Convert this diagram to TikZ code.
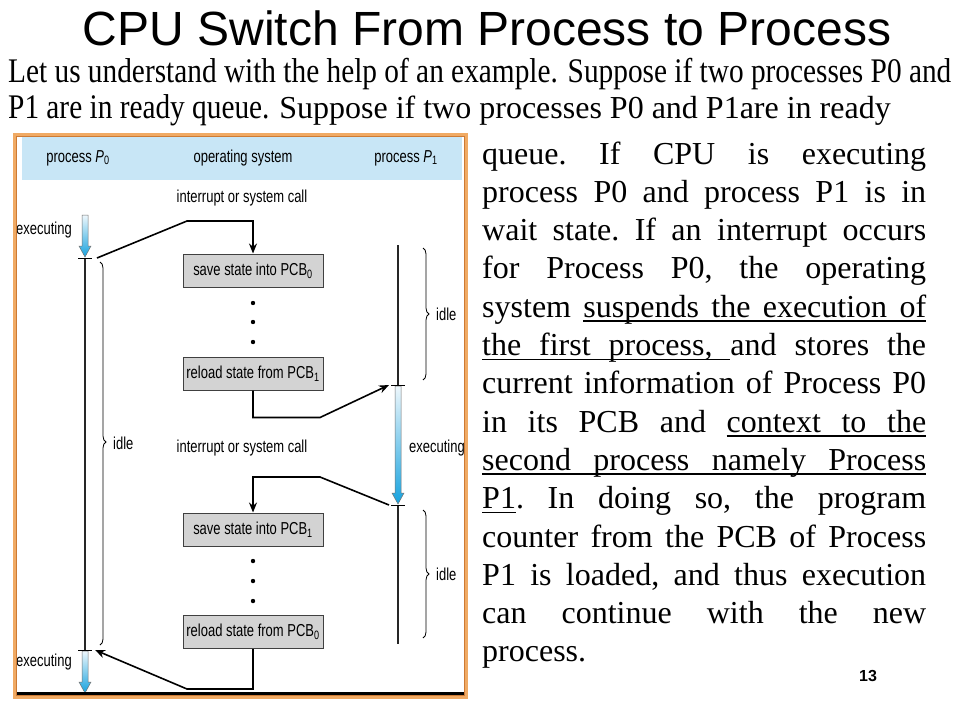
\documentclass[tikz,border=0pt]{standalone}
\usepackage{fontspec}
\setmainfont{Liberation Serif}
\newfontfamily\arialfont{Liberation Sans}
\newfontfamily\figfont[FakeStretch=0.75]{Liberation Sans}
\newfontfamily\introfont[FakeStretch=0.85]{Liberation Serif}
\usetikzlibrary{arrows.meta,decorations.pathreplacing}

\definecolor{hdrblue}{RGB}{200,230,246}
\definecolor{boxgray}{RGB}{211,211,211}
\definecolor{frameorange}{RGB}{240,170,100}
\definecolor{framedark}{RGB}{205,122,52}
\definecolor{arrowtop}{RGB}{238,247,252}
\definecolor{arrowbot}{RGB}{22,162,222}

\newcommand\fsz[2]{\fontsize{#1}{#2}\selectfont}
% one justified line of the explanatory paragraph
\newcommand\jline[1]{\makebox[444pt][s]{\frenchspacing#1}}
% underlined word, and an underlined space that stretches like a normal one
\newcommand\ulw[1]{\setbox0\hbox{#1}\rlap{\vrule width\wd0 height -3pt depth 4.5pt}\box0}
\newcommand\ulsp{\leaders\hrule height -3pt depth 4.5pt\hskip\fontdimen2\font plus\fontdimen3\font minus\fontdimen4\font\relax}
% blue "executing" arrow: x, top y, tip y
\newcommand\execarrow[3]{%
  \shadedraw[top color=arrowtop, bottom color=arrowbot, draw=black!55, line width=0.5pt]
    (#1-3,#2) -- (#1+3,#2) -- (#1+3,#3-11) -- (#1+6,#3-11) -- (#1,#3)
    -- (#1-6,#3-11) -- (#1-3,#3-11) -- cycle;}

\begin{document}
\begin{tikzpicture}[x=1pt,y=-1pt,
  figtext/.style={font=\figfont\fsz{17.3}{19}, inner sep=0pt, text=black},
  statebox/.style={draw=black!75, fill=boxgray, line width=1pt,
    minimum width=140pt, minimum height=33pt, inner sep=0pt,
    font=\figfont\fsz{17.3}{19}, text=black},
  link/.style={line width=1.6pt, -{Stealth[length=10pt,width=8pt]}},
  timeline/.style={line width=2.6pt, black!85},
  tickmark/.style={line width=1pt},
  idlebrace/.style={decorate, decoration={brace, amplitude=6pt, #1}, line width=0.8pt},
  idlebrace/.default={aspect=0.5},
  seqdot/.style={circle, fill=black, inner sep=0pt, minimum size=4.4pt},
  bodyline/.style={anchor=base west, inner sep=0pt, font=\fsz{32}{38}}]
\useasboundingbox (0,0) rectangle (960,720);

% ---------- title and introduction ----------
\node[anchor=base, inner sep=0pt, font=\arialfont\fsz{48}{56}] (title) at (487,45)
  {CPU Switch From Process to Process};
\node[anchor=base west, inner sep=0pt, font=\introfont\fsz{34.5}{40}] (intro1) at (8,82)
  {Let us understand with the help of an example. Suppose if two processes P0 and};
\node[anchor=base west, inner sep=0pt] (intro2) at (8,118)
  {\introfont\fsz{34.5}{40}P1 are in ready queue. \rmfamily\fsz{32}{38}Suppose if two processes P0 and P1are in ready};

% ---------- explanatory paragraph ----------
\foreach \t [count=\i] in {
  {queue. If CPU is executing},
  {process P0 and process P1 is in},
  {wait state. If an interrupt occurs},
  {for Process P0, the operating},
  {system \ulw{suspends}\ulsp\ulw{the}\ulsp\ulw{execution}\ulsp\ulw{of}},
  {\ulw{the}\ulsp\ulw{first}\ulsp\ulw{process,}\ulsp and stores the},
  {current information of Process P0},
  {in its PCB and \ulw{context}\ulsp\ulw{to}\ulsp\ulw{the}},
  {\ulw{second}\ulsp\ulw{process}\ulsp\ulw{namely}\ulsp\ulw{Process}},
  {\ulw{P1}. In doing so, the program},
  {counter from the PCB of Process},
  {P1 is loaded, and thus execution},
  {can continue with the new}}
  \node[bodyline] (line\i) at (482,{164+38.3*(\i-1)}) {\jline{\t}};
\node[bodyline] (line14) at (482,{164+38.3*13}) {process.};

\node[anchor=center, inner sep=0pt, font=\arialfont\bfseries\fsz{16}{19}] (pageno) at (868,676) {13};

% ---------- figure frame and header ----------
\fill[hdrblue] (22,137) rectangle (462,180);
\node[figtext] (hp0) at (78,158) {process \textit{P}\textsubscript{0}};
\node[figtext] (hos) at (243,158) {operating system};
\node[figtext] (hp1) at (406,158) {process \textit{P}\textsubscript{1}};

% ---------- operating system column ----------
\node[figtext] (irq1) at (242,198) {interrupt or system call};
\node[statebox] (sv0) at (253,270.5) {save state into PCB\textsubscript{0}};
\node[seqdot] (d1) at (253,303) {};
\node[seqdot] (d2) at (253,322) {};
\node[seqdot] (d3) at (253,342) {};
\node[statebox] (rl1) at (253,373.5) {reload state from PCB\textsubscript{1}};
\node[figtext] (irq2) at (242,448) {interrupt or system call};
\node[statebox] (sv1) at (253,529.5) {save state into PCB\textsubscript{1}};
\node[seqdot] (d4) at (253,561) {};
\node[seqdot] (d5) at (253,581) {};
\node[seqdot] (d6) at (253,601) {};
\node[statebox] (rl0) at (253,632) {reload state from PCB\textsubscript{0}};

% ---------- process timelines ----------
\coordinate (p0a) at (85,258);
\coordinate (p0b) at (85,650);
\coordinate (p1top) at (398,245);
\coordinate (p1a) at (398,385);
\coordinate (p1b) at (398,505);
\coordinate (p1bot) at (398,644);

\execarrow{85}{215}{257}
\execarrow{398}{386}{504}
\execarrow{85}{651}{693}

\draw[timeline] (p0a) -- (p0b);
\draw[timeline] (p1top) -- (p1a);
\draw[timeline] (p1b) -- (p1bot);
\foreach \c in {p0a,p0b,p1a,p1b}
  \draw[tickmark] ([xshift=-7pt]\c) -- ([xshift=7pt]\c);

\node[figtext, anchor=west] (ex0a) at (16,230) {executing};
\node[figtext, anchor=west] (ex1) at (409,448) {executing};
\node[figtext, anchor=west] (ex0b) at (16,662) {executing};

% idle braces
\draw[idlebrace={aspect=0.47}] (100,262) -- (100,645);
\node[figtext, anchor=west] (idle0) at (113,443) {idle};
\draw[idlebrace] (423,248) -- (423,380);
\node[figtext, anchor=west] (idle1) at (436,314) {idle};
\draw[idlebrace] (423,510) -- (423,638);
\node[figtext, anchor=west] (idle2) at (436,574) {idle};

% ---------- control transfers ----------
\draw[link] ([xshift=12pt]p0a) -- (187,221) -| (sv0.north);
\draw[link] (rl1.south) -- ++(0,27) -- ++(67,0) -- ([xshift=-9pt]p1a);
\draw[link] ([xshift=-9pt]p1b) -- (320,477) -| (sv1.north);
\draw[link] (rl0.south) -- ++(0,40) -- ++(-66,0) -- ([xshift=10pt]p0b);

% frame
\draw[line width=2.5pt] (16,693.5) -- (464,693.5);
\draw[frameorange, line width=3pt] (14.5,134.5) rectangle (466,697);
\draw[framedark, line width=0.7pt] (16.5,136.5) rectangle (464,695);
\end{tikzpicture}
\end{document}
